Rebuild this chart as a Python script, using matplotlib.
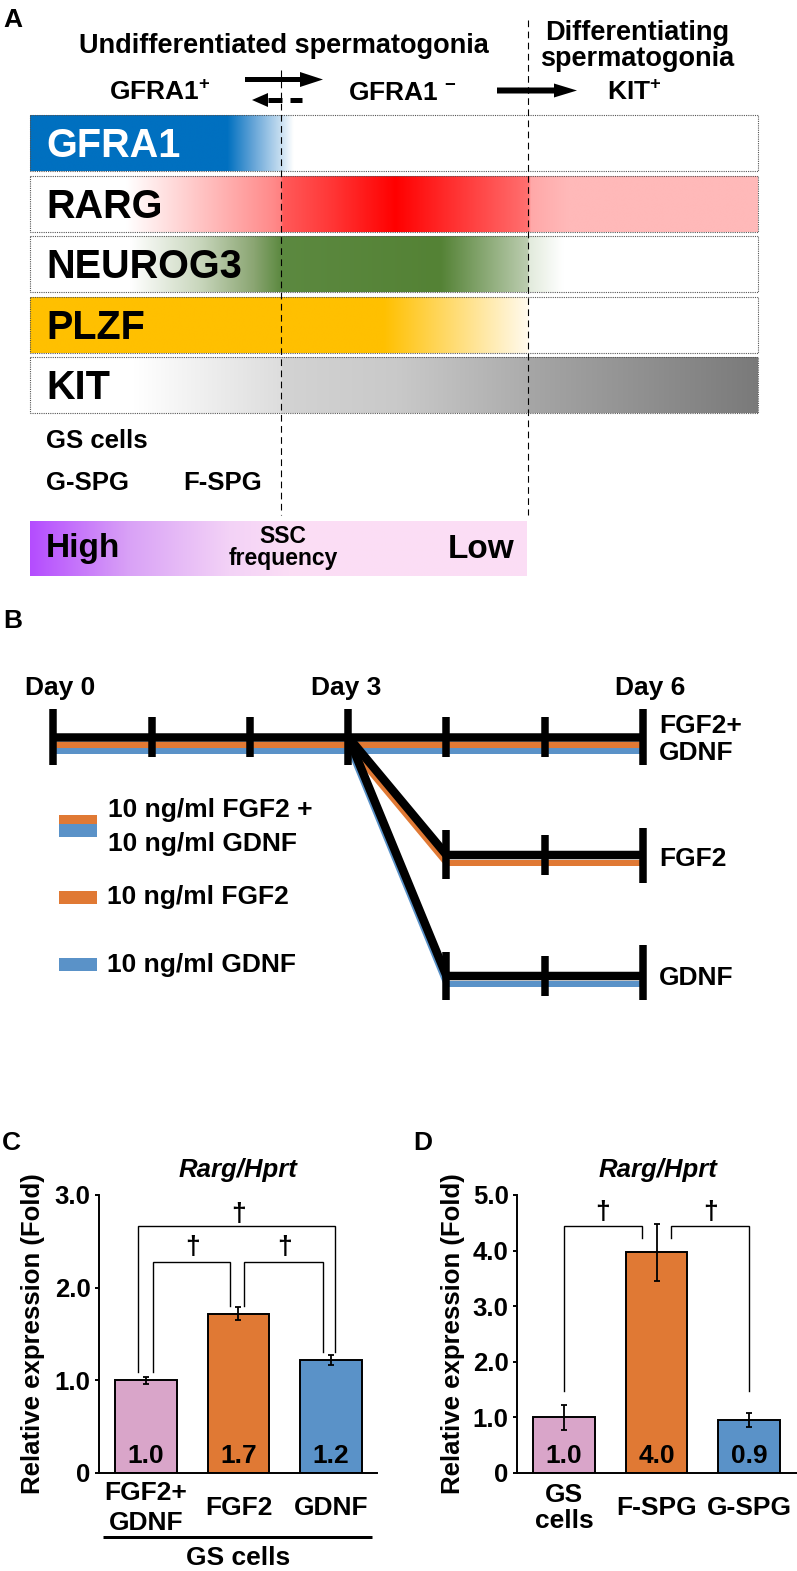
import numpy as np
import matplotlib
matplotlib.use("Agg")
import matplotlib.pyplot as plt
from matplotlib.colors import to_rgb
from matplotlib.patches import Rectangle, FancyArrow, Polygon
from matplotlib.transforms import blended_transform_factory

plt.rcParams["font.family"] = ["Liberation Sans", "DejaVu Sans"]
plt.rcParams["font.weight"] = "bold"
plt.rcParams["mathtext.fontset"] = "custom"
plt.rcParams["mathtext.rm"] = "Liberation Sans:bold"
plt.rcParams["mathtext.bf"] = "Liberation Sans:bold"
plt.rcParams["mathtext.it"] = "Liberation Sans:italic:bold"

# ---------------- data ----------------
# Panel A: marker expression along differentiation (fraction along track, colour)
markers = ["GFRA1", "RARG", "NEUROG3", "PLZF", "KIT"]
marker_text_colors = ["white", "black", "black", "black", "black"]
gfra1_grad = [(0.00, "#0070C0"), (0.271, "#0070C0"), (0.309, "#6BA8D9"), (0.345, "#C8DFF1"),
              (0.362, "#FFFFFF"), (1.00, "#FFFFFF")]
rarg_grad = [(0.00, "#FFFFFF"), (0.133, "#FFFFFF"), (0.234, "#FFC4C4"), (0.334, "#FF8A8A"),
             (0.345, "#FF8080"), (0.347, "#FF5A5A"), (0.417, "#FF3535"), (0.502, "#FF0000"),
             (0.685, "#FF7070"), (0.688, "#FFA8A8"), (0.739, "#FFB9B9"), (1.00, "#FFB9B9")]
neurog3_grad = [(0.00, "#FFFFFF"), (0.138, "#FFFFFF"), (0.234, "#C8D6BC"), (0.307, "#8BA673"),
                (0.345, "#5C8940"), (0.564, "#548235"), (0.684, "#BCCDB0"), (0.686, "#E2EBDC"),
                (0.732, "#FFFFFF"), (1.00, "#FFFFFF")]
plzf_grad = [(0.00, "#FFC000"), (0.486, "#FFC000"), (0.685, "#FFFAEE"), (0.686, "#FFFFFF"),
             (1.00, "#FFFFFF")]
kit_grad = [(0.00, "#FFFFFF"), (0.144, "#FFFFFF"), (0.345, "#DDDDDD"), (0.347, "#D3D3D3"),
            (0.505, "#C9C9C9"), (0.684, "#ACACAC"), (0.686, "#A6A6A6"), (1.00, "#7A7A7A")]
marker_grads = [gfra1_grad, rarg_grad, neurog3_grad, plzf_grad, kit_grad]
ssc_grad = [(0.00, "#B44CFF"), (0.20, "#D9A2F6"), (0.40, "#F3D2F7"), (0.52, "#FBDDF5"), (1.00, "#FCDEF5")]
cell_lines_1 = ["GS cells"]
cell_lines_2 = ["G-SPG", "F-SPG"]

# Panel B: culture timeline
days = [0, 1, 2, 3, 4, 5, 6]
labelled_days = [0, 3, 6]
day_labels = ["Day 0", "Day 3", "Day 6"]
switch_day = 3
conditions = ["FGF2+\nGDNF", "FGF2", "GDNF"]
legend_labels = ["10 ng/ml FGF2 +\n10 ng/ml GDNF", "10 ng/ml FGF2", "10 ng/ml GDNF"]

# Panel C
c_groups = ["FGF2+\nGDNF", "FGF2", "GDNF"]
c_means = [1.00, 1.72, 1.22]
c_sems = [0.04, 0.07, 0.05]
c_value_labels = ["1.0", "1.7", "1.2"]
c_yticks = [0, 1, 2, 3]
c_yticklabels = ["0", "1.0", "2.0", "3.0"]

# Panel D
d_groups = ["GS\ncells", "F-SPG", "G-SPG"]
d_means = [1.00, 3.97, 0.95]
d_sems = [0.23, 0.51, 0.13]
d_value_labels = ["1.0", "4.0", "0.9"]
d_yticks = [0, 1, 2, 3, 4, 5]
d_yticklabels = ["0", "1.0", "2.0", "3.0", "4.0", "5.0"]

bar_colors = ["#D9A5C9", "#E07934", "#5A92C8"]
ORANGE = "#E07934"
BLUE = "#5A92C8"

# ---------------- figure ----------------
W, H = 797, 1571
PX = 0.72  # points per pixel at dpi 100
fig = plt.figure(figsize=(W / 100, H / 100), dpi=100)
ov = fig.add_axes([0, 0, 1, 1])
ov.set_xlim(0, W)
ov.set_ylim(H, 0)
ov.set_autoscale_on(False)
ov.axis("off")


def grad(ax, stops, x0, x1, y0, y1):
    xs = np.linspace(0, 1, 1500)
    pos = [p for p, _ in stops]
    rgb = np.array([to_rgb(c) for _, c in stops])
    img = np.stack([np.interp(xs, pos, rgb[:, k]) for k in range(3)], axis=-1)[None]
    ax.imshow(img, extent=[x0, x1, y1, y0], aspect="auto", interpolation="bilinear", zorder=1)


def txt(x, y, s, size, **kw):
    kw.setdefault("va", "baseline")
    kw.setdefault("ha", "left")
    return ov.text(x, y, s, fontsize=size, fontweight="bold", zorder=5, **kw)


# ---------- Panel A ----------
txt(3, 27, "A", 19)
txt(284, 53, "Undifferentiated spermatogonia", 19.5, ha="center")
txt(637, 40, "Differentiating", 19.5, ha="center")
txt(637, 66, "spermatogonia", 19.5, ha="center")
txt(160, 100, r"GFRA1$^{+}$", 19, ha="center")
txt(402, 100, r"GFRA1 $^{-}$", 19, ha="center")
txt(634, 100, r"KIT$^{+}$", 19, ha="center")

# arrows
ov.add_patch(FancyArrow(245, 79.5, 78, 0, width=5, head_width=15, head_length=23,
                        length_includes_head=True, color="black", lw=0, zorder=5))
ov.add_patch(FancyArrow(497, 90.5, 80, 0, width=6, head_width=14, head_length=23,
                        length_includes_head=True, color="black", lw=0, zorder=5))
ov.add_patch(Polygon([(252, 100), (268, 93), (268, 107)], closed=True, color="black", lw=0, zorder=5))
ov.plot([268, 282], [100, 100], color="black", lw=5 * PX, solid_capstyle="butt", zorder=5)
ov.plot([290, 302], [100, 100], color="black", lw=5 * PX, solid_capstyle="butt", zorder=5)

track_x0, track_x1 = 30, 758
row_top0, row_h, row_step = 115, 56, 60.5
for i, (name, stops, tc) in enumerate(zip(markers, marker_grads, marker_text_colors)):
    top = row_top0 + i * row_step
    grad(ov, stops, track_x0, track_x1, top, top + row_h)
    ov.add_patch(Rectangle((track_x0, top), track_x1 - track_x0, row_h, fill=False,
                           ec="#555555", lw=0.8, ls=(0, (1, 1)), zorder=2))
    txt(46, top + 42, name, 28.5, color=tc)

# dashed stage boundaries
ov.plot([281, 281], [70, 515], color="black", lw=0.8, ls=(0, (6, 4)), zorder=3)
ov.plot([528, 528], [20, 515], color="black", lw=0.8, ls=(0, (6, 4)), zorder=3)

txt(46, 448, cell_lines_1[0], 18.5)
txt(46, 490, cell_lines_2[0], 18.5)
txt(183, 490, cell_lines_2[1], 18.5)

grad(ov, ssc_grad, 30, 527, 522, 576)
txt(46, 557, "High", 24)
txt(515, 558, "Low", 24, ha="right")
txt(283, 543, "SSC", 16.5, ha="center")
txt(283, 565, "frequency", 16.5, ha="center")

# ---------- Panel B ----------
txt(3, 628, "B", 19)


def day_x(d):
    return 53.5 + d * 98.25


main_y, fgf2_y, gdnf_y = 737, 855, 976
for d, lab, off in zip(labelled_days, day_labels, [7, -2, 7]):
    txt(day_x(d) + off, 695, lab, 19, ha="center")

x0, x3, x4, x6 = day_x(days[0]), day_x(switch_day), day_x(switch_day + 1), day_x(days[-1])
lw_b = 8.5 * PX
lw_c = 6 * PX
# continuous FGF2 + GDNF
ov.plot([x0, x6], [main_y + 14, main_y + 14], color=BLUE, lw=lw_c, solid_capstyle="butt", zorder=3)
ov.plot([x0, x6], [main_y + 8, main_y + 8], color=ORANGE, lw=lw_c, solid_capstyle="butt", zorder=3)
# branches after the medium switch
ov.plot([x3, x4, x6], [main_y + 8, fgf2_y + 8, fgf2_y + 8], color=ORANGE, lw=lw_c,
        solid_capstyle="butt", solid_joinstyle="miter", zorder=3)
ov.plot([x3, x4, x6], [main_y + 8, gdnf_y + 8, gdnf_y + 8], color=BLUE, lw=lw_c,
        solid_capstyle="butt", solid_joinstyle="miter", zorder=3)
ov.plot([x0, x6], [main_y, main_y], color="black", lw=lw_b, solid_capstyle="butt", zorder=4)
ov.plot([x3, x4, x6], [main_y, fgf2_y, fgf2_y], color="black", lw=lw_b,
        solid_capstyle="butt", solid_joinstyle="miter", zorder=4)
ov.plot([x3, x4, x6], [main_y, gdnf_y, gdnf_y], color="black", lw=lw_b,
        solid_capstyle="butt", solid_joinstyle="miter", zorder=4)

tick_lw = 7.5 * PX
for d in days:
    if d in labelled_days:
        ov.plot([day_x(d)] * 2, [709, 765], color="black", lw=tick_lw, solid_capstyle="butt", zorder=5)
    else:
        ov.plot([day_x(d)] * 2, [717, 757], color="black", lw=tick_lw, solid_capstyle="butt", zorder=5)
branch_ticks = {fgf2_y: [(830, 879), (835, 875), (828, 883)],
                gdnf_y: [(952, 1000), (956, 996), (945, 1000)]}
for yrow, spans in branch_ticks.items():
    for d, (ya, yb) in zip(days[4:], spans):
        ov.plot([day_x(d)] * 2, [ya, yb], color="black", lw=tick_lw, solid_capstyle="butt", zorder=5)

cond_lines = conditions[0].split("\n")
txt(659, 733, cond_lines[0], 19)
txt(659, 760, cond_lines[1], 19)
txt(659, 866, conditions[1], 19)
txt(659, 985, conditions[2], 19)

# legend
ov.add_patch(Rectangle((59, 815), 38, 9, color=ORANGE, lw=0, zorder=3))
ov.add_patch(Rectangle((59, 824), 38, 13, color=BLUE, lw=0, zorder=3))
ov.add_patch(Rectangle((59, 891), 38, 13, color=ORANGE, lw=0, zorder=3))
ov.add_patch(Rectangle((59, 958), 38, 13, color=BLUE, lw=0, zorder=3))
leg0 = legend_labels[0].split("\n")
txt(108, 817, leg0[0], 19)
txt(108, 851, leg0[1], 19)
txt(107, 904, legend_labels[1], 19)
txt(107, 972, legend_labels[2], 19)

# ---------- Panels C & D ----------
txt(2, 1150, "C", 19)
txt(413, 1150, "D", 19)


def bar_axes(left_px, right_px):
    return fig.add_axes([left_px / W, (H - 1473) / H, (right_px - left_px) / W, (1473 - 1195) / H])


def style(ax, ymax, yticks, yticklabels, xmax):
    ax.set_xlim(-0.51, xmax)
    ax.set_ylim(0, ymax)
    for s in ["top", "right"]:
        ax.spines[s].set_visible(False)
    for s in ["left", "bottom"]:
        ax.spines[s].set_linewidth(1.4)
    ax.set_yticks(yticks)
    ax.set_yticklabels(yticklabels, fontsize=18.5, fontweight="bold")
    ax.set_xticks([])
    ax.tick_params(axis="y", direction="out", length=3, width=1.4, pad=3)
    ax.patch.set_alpha(0)


def draw_bars(ax, means, sems, vlabels):
    x = np.arange(len(means))
    ax.bar(x, means, width=0.67, color=bar_colors, edgecolor="black", linewidth=1.4, zorder=2)
    ax.errorbar(x, means, yerr=sems, fmt="none", ecolor="black", elinewidth=1.3,
                capsize=2, capthick=1.3, zorder=3)
    tr = blended_transform_factory(ax.transData, ov.transData)
    for xi, lab in zip(x, vlabels):
        ax.text(xi, 1463, lab, transform=tr, ha="center", va="baseline", fontsize=19,
                fontweight="bold", zorder=4)
    return tr


def bracket(ax, x0, x1, yl, yr, ytop, xd, yd):
    ax.plot([x0, x0, x1, x1], [yl, ytop, ytop, yr], color="black", lw=1.0,
            clip_on=False, solid_joinstyle="miter", zorder=3)
    ax.text(xd, yd, "\u2020", ha="center", va="center", fontsize=19, fontweight="bold")


axC = bar_axes(99, 377)
style(axC, 3, c_yticks, c_yticklabels, 2.5)
trC = draw_bars(axC, c_means, c_sems, c_value_labels)
bracket(axC, -0.09, 2.05, 1.09, 1.31, 2.67, 1.0, 2.80)
bracket(axC, 0.08, 0.91, 1.09, 1.80, 2.28, 0.5, 2.44)
bracket(axC, 1.065, 1.92, 1.80, 1.31, 2.28, 1.5, 2.44)
axC.text(-0.237, 0.5, "Relative expression (Fold)", transform=axC.transAxes, rotation=90,
         ha="center", va="center", fontsize=18.5, fontweight="bold")
txt(238, 1177, "Rarg/Hprt", 18.5, ha="center", fontstyle="italic")
gl = c_groups[0].split("\n")
axC.text(0, 1500, gl[0], transform=trC, ha="center", va="baseline", fontsize=19, fontweight="bold")
axC.text(0, 1530, gl[1], transform=trC, ha="center", va="baseline", fontsize=19, fontweight="bold")
for xi, g in zip([1, 2], c_groups[1:]):
    axC.text(xi, 1515, g, transform=trC, ha="center", va="baseline", fontsize=19, fontweight="bold")
ov.plot([103, 372], [1537, 1537], color="black", lw=3 * PX, solid_capstyle="butt", zorder=5)
txt(238, 1565, "GS cells", 19, ha="center")

axD = bar_axes(517, 797)
style(axD, 5, d_yticks, d_yticklabels, 2.52)
trD = draw_bars(axD, d_means, d_sems, d_value_labels)
bracket(axD, 0.0, 0.845, 1.47, 4.22, 4.44, 0.42, 4.69)
bracket(axD, 1.16, 2.0, 4.22, 1.47, 4.44, 1.58, 4.69)
axD.text(-0.229, 0.5, "Relative expression (Fold)", transform=axD.transAxes, rotation=90,
         ha="center", va="center", fontsize=18.5, fontweight="bold")
txt(658, 1177, "Rarg/Hprt", 18.5, ha="center", fontstyle="italic")
gl = d_groups[0].split("\n")
axD.text(0, 1502, gl[0], transform=trD, ha="center", va="baseline", fontsize=19, fontweight="bold")
axD.text(0, 1528, gl[1], transform=trD, ha="center", va="baseline", fontsize=19, fontweight="bold")
for xi, g in zip([1, 2], d_groups[1:]):
    axD.text(xi, 1515, g, transform=trD, ha="center", va="baseline", fontsize=19, fontweight="bold")

fig.savefig("out.png", dpi=100)
